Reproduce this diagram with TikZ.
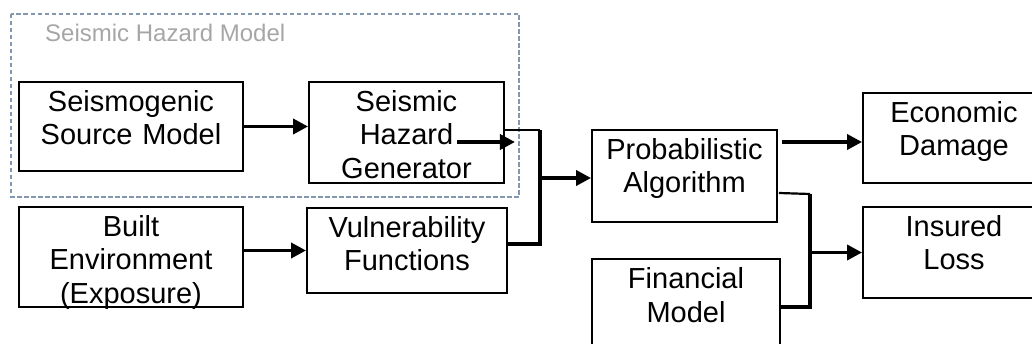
\documentclass[tikz,border=0pt]{standalone}
\usepackage{fontspec}
\setmainfont{Liberation Sans}
\usetikzlibrary{calc,arrows.meta}
\definecolor{frameblue}{HTML}{8497B0}
\definecolor{titlegray}{HTML}{A6A6A6}
\newcommand{\blkfont}{\fontsize{29}{33.5}\selectfont}

\begin{document}
\begin{tikzpicture}[x=1pt, y=-1pt,
  blk/.style 2 args={draw, line width=1.9pt, inner sep=0pt, align=center, font=\blkfont,
    text width=#1, text height=29.5pt, text depth=#2},
  wire/.style={line width=3.6pt},
  thinwire/.style={line width=2.2pt},
  arr/.style={line width=3.6pt, -{Triangle[length=15pt,width=15pt]}}]
  \useasboundingbox (0,0) rectangle (1032,344);
  \clip (0,0) rectangle (1032,344);

  % Seismic hazard model frame (dashed) and its title
  \draw[frameblue, line width=1.6pt, dash pattern=on 4.5pt off 2.5pt] (11,14) rectangle (519,197);
  \node[anchor=base west, inner sep=0pt, text=titlegray, font=\fontsize{24}{28}\selectfont] (hmtitle) at (45,42) {Seismic Hazard Model};

  % Input blocks (left column pair)
  \node[blk={224pt}{59.5pt}] (src) at (131,126.5) {Seismogenic\\Source Model};
  \node[blk={195pt}{71.5pt}] (gen) at (406.5,132.5) {Seismic\\Hazard\\Generator};
  \node[blk={224pt}{70.5pt}] (env) at (131,257) {Built\\Environment\\(Exposure)};
  \node[blk={200pt}{55.5pt}] (vul) at (407,250.5) {Vulnerability\\Functions};

  % Middle and output blocks (right ones run past the page edge)
  \node[blk={185pt}{62.5pt}] (prob) at (684.5,176) {Probabilistic\\Algorithm};
  \node[blk={188pt}{63.5pt}] (fin) at (686,305.5) {Financial\\Model};
  \node[blk={182pt}{60.5pt}] (eco) at (954,138) {Economic\\Damage};
  \node[blk={182pt}{61.5pt}] (ins) at (954,252.5) {Insured\\Loss};

  % Hazard side
  \draw[arr] (src.east) -- (src.east -| gen.west);
  \coordinate (hzin) at ($(gen.east)+(-48,9.5)$);
  \coordinate (hzout) at ($(gen.east)+(10,9.5)$);
  \draw[arr] (hzin) -- (hzout);
  \draw[arr] (env.east |- vul.west) -- (vul.west);

  % Merge into the probabilistic algorithm
  \coordinate (jL) at (540,130);
  \coordinate (jLb) at (540,244);
  \coordinate (jLm) at (540,178);
  \draw[thinwire] (gen.east |- jL) -- (jL);
  \draw[wire] (jL) -- (jLb) -- (vul.east |- jLb);
  \draw[arr] (jLm) -- (jLm -| prob.west);

  % Outputs
  \coordinate (pa) at ($(prob.east)+(4,-34)$);
  \draw[arr] (pa) -- (pa -| eco.west);
  \coordinate (jR) at (810,194);
  \coordinate (jRb) at (810,307);
  \draw[thinwire] ($(prob.east)+(1,17)$) -- (jR);
  \draw[wire] (jR) -- (jRb) -- (jRb -| fin.east);
  \draw[arr] (jR |- ins.west) -- (ins.west);
\end{tikzpicture}
\end{document}
